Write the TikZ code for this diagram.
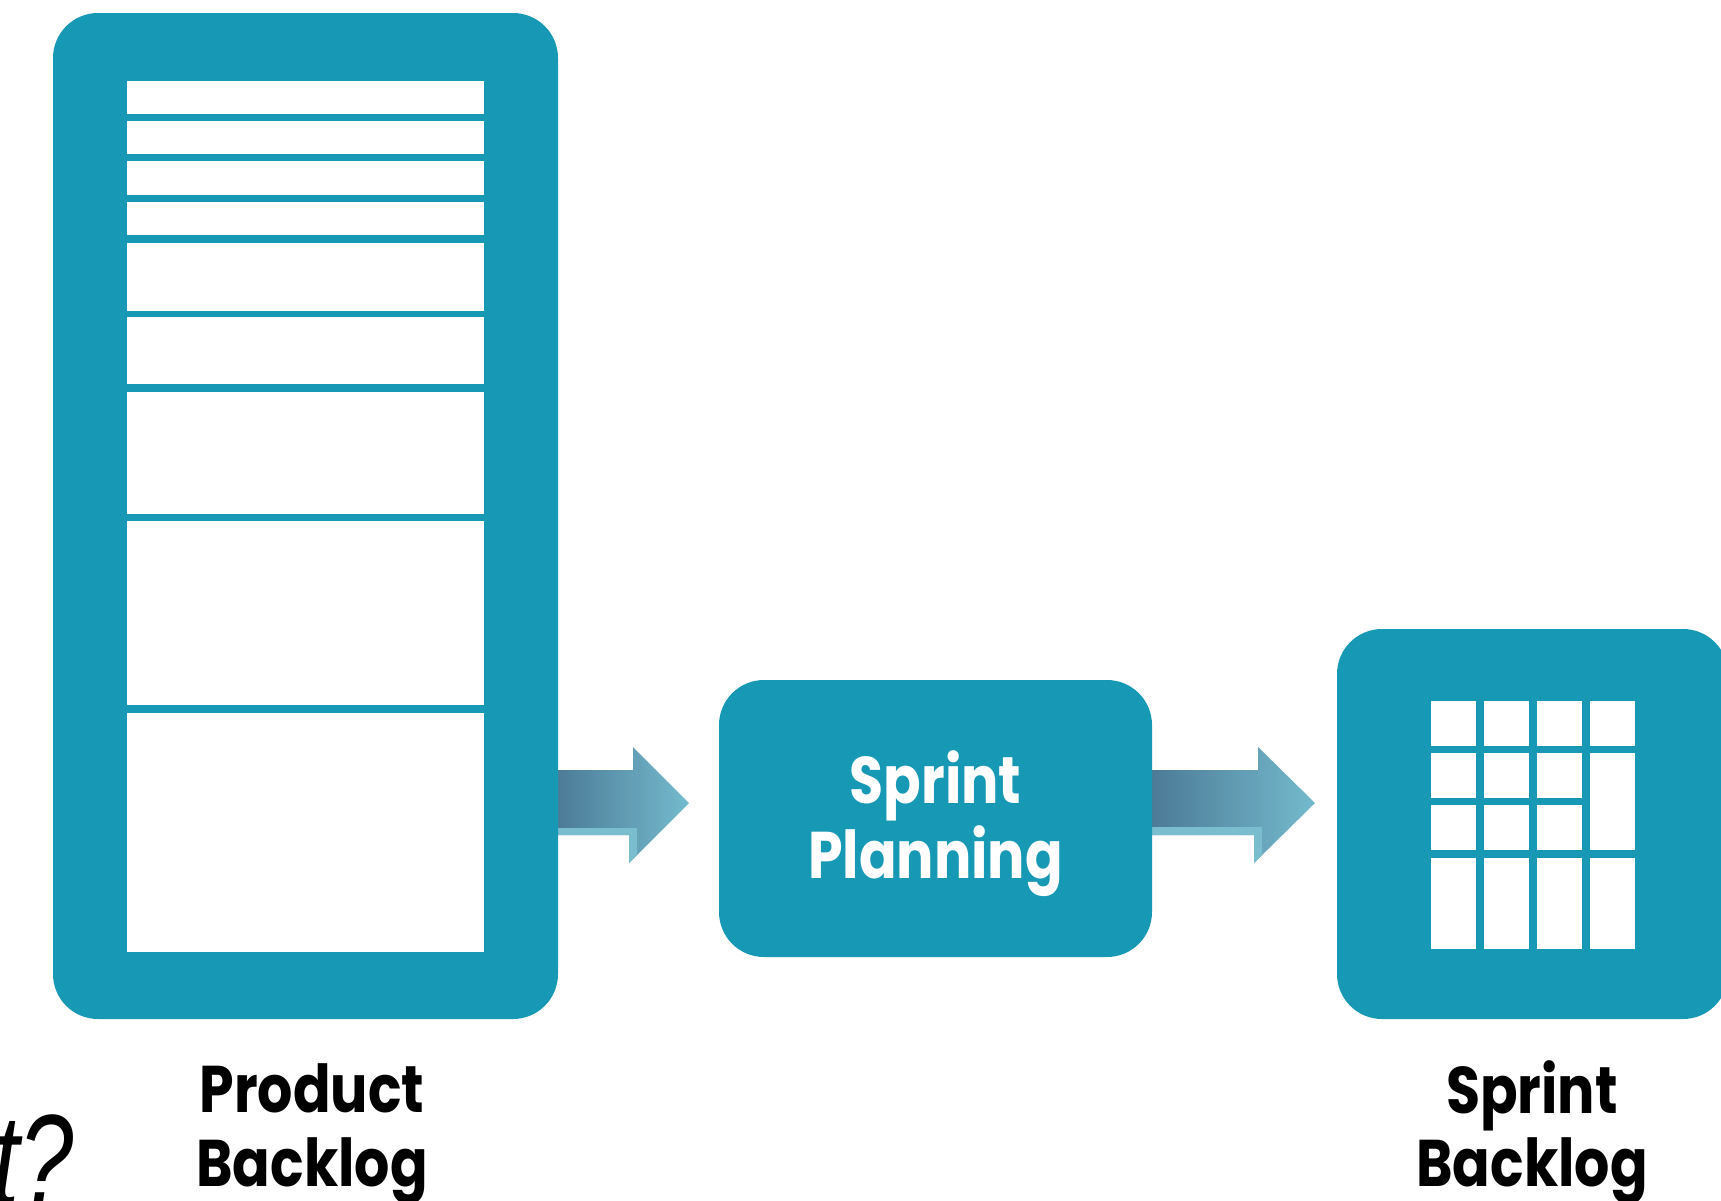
\documentclass[tikz,border=0pt]{standalone}
\usepackage{fontspec}
\newfontfamily\pop{Poppins}
\newfontfamily\lib{Liberation Sans}
\definecolor{teal1}{HTML}{1798B4}
\definecolor{adark}{HTML}{4A7894}
\definecolor{amid}{HTML}{58ADC4}
\definecolor{alight}{HTML}{74BACD}
\definecolor{astrip}{HTML}{7ABDCF}
\newcommand{\narrow}[1]{\scalebox{0.84}[1]{#1}}
\begin{document}
\begin{tikzpicture}[x=1pt,y=-1pt,
  box/.style={fill=teal1, draw=none, rounded corners=45pt, inner sep=0pt},
  lab/.style={font=\pop\bfseries\fontsize{66}{66}\selectfont, inner sep=0pt, anchor=base},
  cell/.style={fill=white}]
\useasboundingbox (0,0) rectangle (1721,1200);
\clip (0,0) rectangle (1721,1200);
% arrows (behind the boxes)
\shade[left color=adark, middle color=amid, right color=alight]
  (550,770) -- (633,770) -- (633,747) -- (689,803) -- (629,863) -- (629,835) -- (550,835) -- cycle;
\fill[astrip] (550,828) -- (637,828) -- (637,855) -- (629,863) -- (629,835) -- (550,835) -- cycle;
\shade[left color=adark, middle color=amid, right color=alight]
  (1145,770) -- (1258,770) -- (1258,747) -- (1315,803) -- (1254,863) -- (1254,835) -- (1145,835) -- cycle;
\fill[astrip] (1145,827) -- (1262,827) -- (1262,855) -- (1254,863) -- (1254,835) -- (1145,835) -- cycle;
% boxes
\node[box, minimum width=505pt, minimum height=1006pt] (pb) at (305.5,516) {};
\node[box, minimum width=433pt, minimum height=277pt] (sp) at (935.5,818.5) {};
\node[box, minimum width=391pt, minimum height=390pt] (sb) at (1532.5,824) {};
% product backlog rows
\foreach \a/\b in {81/114,121/154,161/195,202/235,243/311,317/384,392/514,521/705,713/952}
  \fill[cell] (127,\a) rectangle (484,\b);
% sprint backlog grid
\foreach \l/\r in {1431/1476,1484/1529,1537/1582}
  \foreach \a/\b in {701/746,753/798,805/850,858/949}
    \fill[cell] (\l,\a) rectangle (\r,\b);
\foreach \a/\b in {701/746,753/850,858/949}
  \fill[cell] (1590,\a) rectangle (1635,\b);
% texts
\node[lab, text=white] (sp1) at (935.5,803) {\narrow{Sprint}};
\node[lab, text=white] (sp2) at (935.5,878) {\narrow{Planning}};
\node[lab] (pb1) at (312,1112) {\narrow{Product}};
\node[lab] (pb2) at (312,1186) {\narrow{Backlog}};
\node[lab] (sb1) at (1532,1113) {\narrow{Sprint}};
\node[lab] (sb2) at (1532,1186) {\narrow{Backlog}};
\node[font=\lib\itshape\fontsize{130}{130}\selectfont, anchor=base west, inner sep=0pt] (q) at (-8,1205) {\scalebox{0.75}[1]{t?}};
\end{tikzpicture}
\end{document}
